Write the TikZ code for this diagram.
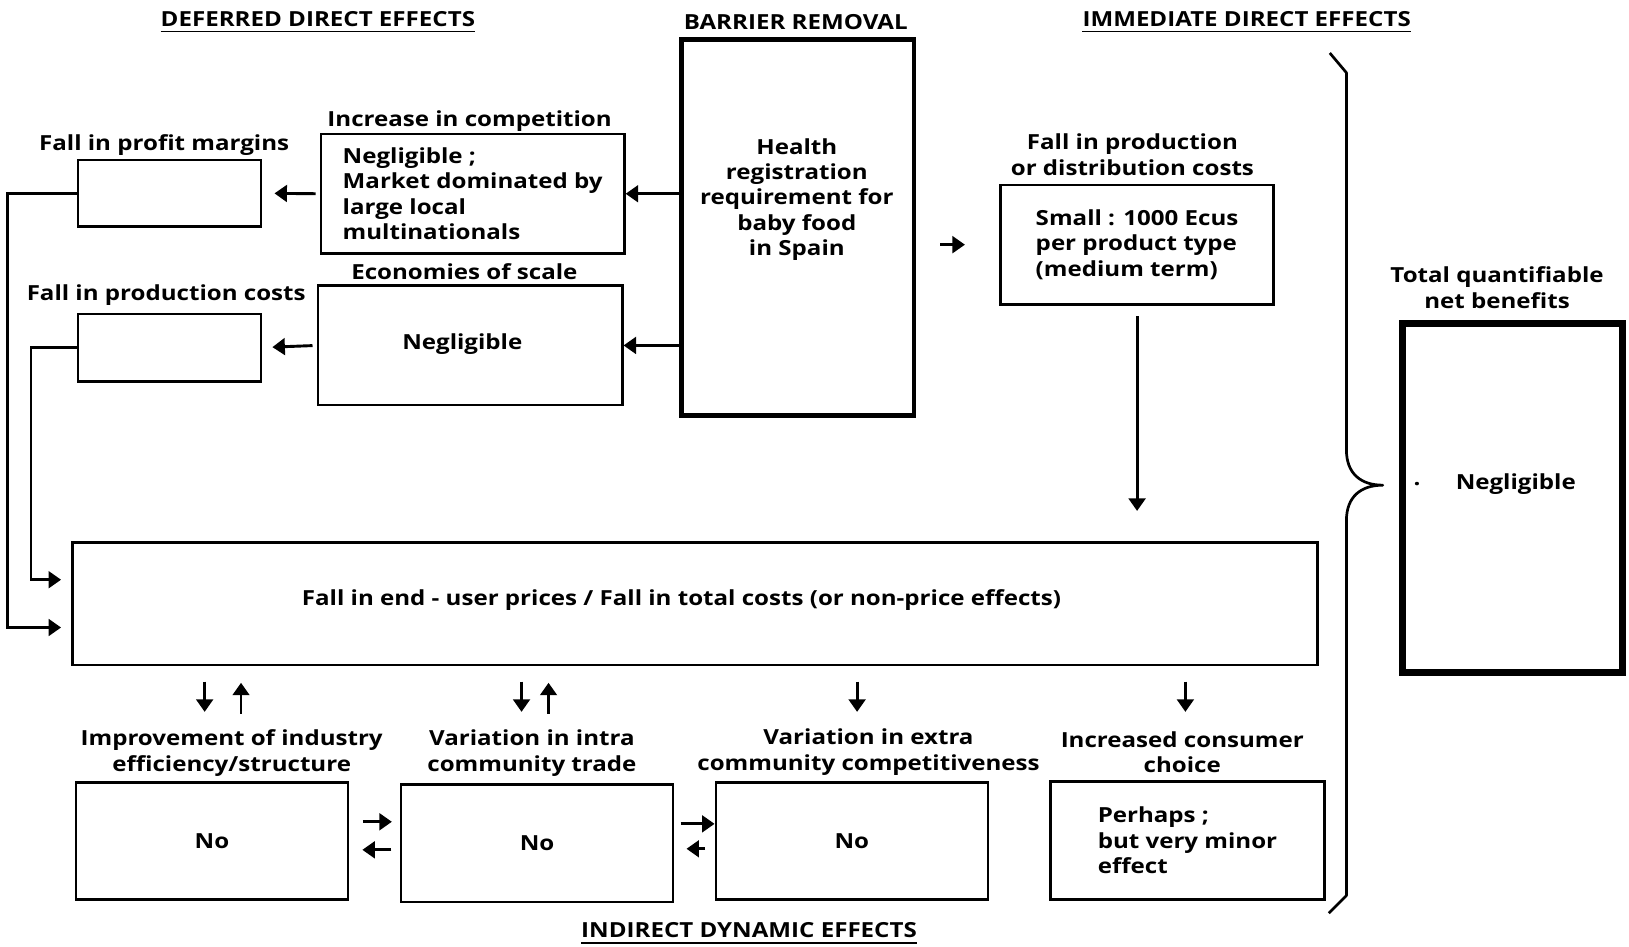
\documentclass[tikz,border=0pt]{standalone}
\usepackage{fontspec}
\setmainfont{Open Sans}[FakeStretch=1.16]
\usetikzlibrary{arrows.meta,calc}
\begin{document}
\begin{tikzpicture}[x=1pt,y=-1pt,
  font=\fontsize{20}{24.4}\selectfont\bfseries,
  box/.style 2 args={draw, line width=2.4pt, inner sep=0pt, align=left,
    minimum width=#1, minimum height=#2},
  txt/.style={inner sep=0pt, align=center},
  arr/.style={line width=2.8pt, -{Triangle[length=12pt,width=16pt]}},
  headline/.style={line width=1.3pt}
]
\useasboundingbox (0,0) rectangle (1568,911);

% ---------- headings ----------
\node[txt] (hdef) at (306,18) {DEFERRED DIRECT EFFECTS};
\draw[headline] ($(hdef.south west)+(0,5)$) -- ($(hdef.south east)+(0,5)$);
\node[txt] (hbar) at (766,21) {BARRIER REMOVAL};
\node[txt] (himm) at (1200,18) {IMMEDIATE DIRECT EFFECTS};
\draw[headline] ($(himm.south west)+(0,5)$) -- ($(himm.south east)+(0,5)$);
\node[txt] (hind) at (721,895) {INDIRECT DYNAMIC EFFECTS};
\draw[headline] ($(hind.south west)+(0,5)$) -- ($(hind.south east)+(0,5)$);

% ---------- barrier ----------
\node[box={224}{362}, line width=4pt] (barrier) at (768,219) {};
\node[txt] (bartext) at (767,192) {Health\\registration\\requirement for\\baby food\\in Spain};

% ---------- deferred direct effects ----------
\node[box={292}{115}] (increase) at (455,186.5)
  {Negligible ;\\Market dominated by\\large local\\multinationals};
\node[txt] at (452,117) {Increase in competition};

\node[box={176}{64}] (profit) at (163,186) {};
\node[txt] at (158,140) {Fall in profit margins};

\node[box={293}{115}] (econ) at (452.5,332.5) {};
\node[txt] at (445,331) {Negligible};
\node[txt] at (447,261) {Economies of scale};

\node[box={176}{65}] (prodcost) at (163,334.5) {};
\node[txt] at (160,284) {Fall in production costs};

% ---------- central box ----------
\node[box={1198}{118}] (big) at (669,581) {};
\node[txt] at (656,578) {Fall in end - user prices / Fall in total costs (or non-price effects)};

% ---------- immediate direct effects ----------
\node[box={263}{115}] (imm) at (1094.5,235.5)
  {Small : 1000 Ecus\\per product type\\(medium term)};
\node[txt] at (1090,149) {Fall in production\\or distribution costs};

% ---------- total ----------
\node[box={212}{336}, line width=7pt] (total) at (1456,479.5) {};
\node[txt] at (1459,466) {Negligible};
\node[txt] at (1364,466) {.};
\node[txt] at (1441,277) {Total quantifiable\\net benefits};

% ---------- indirect dynamic effects ----------
\node[box={262}{113}] (b1) at (204,809.5) {No};
\node[box={262}{113}] (b2) at (517,811.5) {No};
\node[box={262}{113}] (b3) at (820,809.5) {No};
\node[box={264}{114}] (b4) at (1143,809) {Perhaps ;\\but very minor\\effect};
\node[txt] at (223,725) {Improvement of industry\\efficiency/structure};
\node[txt] at (512,725) {Variation in intra\\community trade};
\node[txt] at (836,724) {Variation in extra\\community competitiveness};
\node[txt] at (1138,724) {Increased consumer\\choice};

% ---------- brace ----------
\draw[line width=2.6pt, line join=round]
  (1280,51) -- (1296,70) -- (1296,433)
  .. controls (1296,456) and (1310,467) .. (1331,467)
  .. controls (1310,467) and (1296,478) .. (1296,501)
  -- (1296,862) -- (1279,879);

% ---------- connectors ----------
\draw[arr] (barrier.west |- increase.east) -- (increase.east);
\draw[arr, shorten <=4pt, shorten >=12pt] (increase.west) -- (profit.east);
\draw[arr] (barrier.west |- econ.east) -- (econ.east);
\draw[arr, shorten <=4pt, shorten >=10pt] (econ.west) -- (prodcost.east);

\draw[arr, shorten >=10pt] (profit.west) -- ++(-67,0) |- ($(big.west)+(0,23)$);
\draw[arr, shorten >=10pt] (prodcost.west) -- ++(-44,0) |- ($(big.west)+(0,-23)$);

\draw[arr, shorten <=23pt, shorten >=33pt] (barrier.east |- imm.west) -- (imm.west);
\draw[arr, shorten <=10pt, shorten >=29pt] (imm.south) -- (imm.south |- big.north);

% between central box and indirect effects
\draw[arr] ($(b1.north |- big.south)+(-7,15)$) -- ++(0,29);
\draw[arr] ($(b1.north |- big.south)+(28,46)$) -- ++(0,-30);
\draw[arr] ($(b2.north |- big.south)+(-15,15)$) -- ++(0,29);
\draw[arr] ($(b2.north |- big.south)+(11,46)$) -- ++(0,-30);
\draw[arr] ($(b3.north |- big.south)+(5,15)$) -- ++(0,29);
\draw[arr] ($(b4.north |- big.south)+(-2,15)$) -- ++(0,29);

% between indirect effect boxes
\draw[arr] ($(b1.east)+(13,-18.5)$) -- ++(28,0);
\draw[arr] ($(b2.west)+(-8,6.5)$) -- ++(-28,0);
\draw[arr] ($(b2.east)+(6,-18.5)$) -- (b3.west |- 0,793);
\draw[arr] ($(b3.west)+(-9,7.5)$) -- ++(-18,0);
\end{tikzpicture}
\end{document}
